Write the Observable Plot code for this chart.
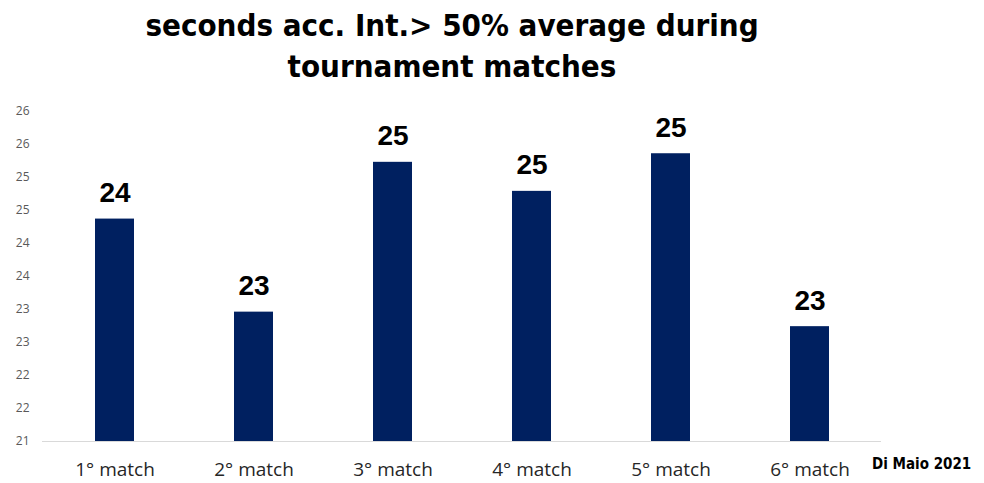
<!DOCTYPE html>
<html>
<head>
<meta charset="utf-8">
<script src="https://cdn.jsdelivr.net/npm/d3@7"></script>
<script src="https://cdn.jsdelivr.net/npm/@observablehq/plot@0.6"></script>
<style>
  html, body { margin: 0; padding: 0; background: #fff; }
  #wrap { position: relative; width: 984px; height: 483px; overflow: hidden; }
  #title {
    position: absolute; left: 0; top: 5px; width: 904px; text-align: center;
    font-family: "DejaVu Sans Condensed", "Liberation Sans Narrow", sans-serif;
    font-weight: bold; font-size: 31px; line-height: 41px; color: #000;
  }
  #chart { position: absolute; left: 0; top: 96px; }
  #caption {
    position: absolute; left: 872px; top: 456px;
    font-family: "DejaVu Sans Condensed", "Liberation Sans Narrow", sans-serif;
    font-weight: bold; font-size: 15px; line-height: 17px; color: #000; white-space: nowrap;
  }
</style>
</head>
<body>
<div id="wrap">
  <div id="title">seconds acc. Int.&gt; 50% average during<br>tournament matches</div>
  <div id="chart"></div>
  <div id="caption">Di Maio 2021</div>
</div>
<script>
const matches = ["1° match", "2° match", "3° match", "4° match", "5° match", "6° match"];
const values = [24.37, 22.96, 25.23, 24.79, 25.36, 22.74];
const valueLabels = ["24", "23", "25", "25", "25", "23"];
const yTicks = [21, 21.5, 22, 22.5, 23, 23.5, 24, 24.5, 25, 25.5, 26];
const yTickLabels = ["21", "22", "22", "23", "23", "24", "24", "25", "25", "26", "26"];
const yMin = 21, yMax = 26;

const data = matches.map((m, i) => ({match: m, v: values[i], label: valueLabels[i]}));

const plot = Plot.plot({
  width: 984,
  height: 387,
  marginTop: 15,
  marginBottom: 42,
  marginLeft: 42,
  marginRight: 103,
  style: {background: "transparent", overflow: "visible"},
  x: {domain: matches, paddingInner: 0.72, paddingOuter: 0.36, label: null},
  y: {domain: [yMin, yMax], label: null},
  marks: [
    Plot.axisY({
      ticks: yTicks, tickSize: 0, tickPadding: 13,
      tickFormat: (d) => yTickLabels[yTicks.indexOf(d)],
      fontSize: 12, fontFamily: "Open Sans, sans-serif", fill: "#595959", label: null
    }),
    Plot.axisX({
      tickSize: 0, tickPadding: 21, fontSize: 19,
      fontFamily: "Open Sans, sans-serif", fill: "#262626", label: null
    }),
    Plot.barY(data, {x: "match", y1: () => yMin, y2: "v", fill: "#002060"}),
    Plot.ruleY([yMin], {stroke: "#d9d9d9", strokeWidth: 1.2}),
    Plot.text(data, {
      x: "match", y: "v", text: "label", lineAnchor: "bottom", dy: -17,
      fontSize: 28, fontWeight: "bold", fontFamily: "Liberation Sans, Arial, sans-serif", fill: "#000"
    })
  ]
});
document.getElementById("chart").appendChild(plot);
</script>
</body>
</html>
